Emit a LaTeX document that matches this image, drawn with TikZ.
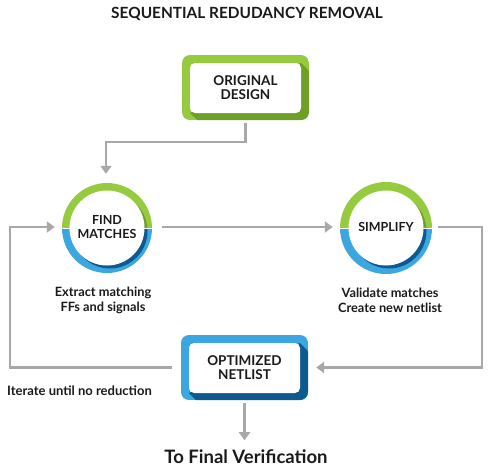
\documentclass[tikz,border=0pt]{standalone}
\usepackage{fontspec}
\setmainfont{Lato}
\usetikzlibrary{arrows.meta}
\definecolor{glight}{HTML}{96CB3F}
\definecolor{gdark}{HTML}{6E9F27}
\definecolor{blight}{HTML}{3CA6E0}
\definecolor{bdark}{HTML}{0C5A8F}
\definecolor{arrowgray}{HTML}{A8A8A8}
\definecolor{txt}{HTML}{1A1A1A}

% rounded box with long shadow: x1 y1 x2 y2 light dark
\newcommand\srrbox[6]{%
  \begin{scope}
    \clip[rounded corners=8pt] (#1,#2) rectangle (#3,#4);
    \fill[#5] (#1,#2) rectangle (#3,#4);
    \fill[#6] (#3-8,#2+8) -- ++(80,80) -- (#1+88,#4+73) -- (#1+8,#4-7) -- cycle;
  \end{scope}
  \fill[white, rounded corners=5pt] (#1+8,#2+8) rectangle (#3-8,#4-7);
}
% ring: cx cy R
\newcommand\srrring[3]{%
  \begin{scope}
    \clip (#1,#2) circle (#3pt);
    \clip (#1-#3,#2-#3) rectangle (#1+#3,#2-1);
    \fill[glight] (#1-#3,#2-#3) rectangle (#1+#3,#2);
    \fill[gdark] (#1+3,#2+3) circle (37.5pt);
  \end{scope}
  \begin{scope}
    \clip (#1,#2) circle (#3pt);
    \clip (#1-#3,#2+1) rectangle (#1+#3,#2+#3);
    \fill[blight] (#1-#3,#2) rectangle (#1+#3,#2+#3);
    \fill[bdark] (#1+3,#2+3) circle (37.5pt);
  \end{scope}
  \fill[white] (#1,#2) circle (37.5pt);
}

\tikzset{
  boxlabel/.style={font=\bfseries\fontsize{13.5}{13.5}\selectfont, text=txt, align=center, inner sep=0pt},
  ringlabel/.style={circle, inner sep=0pt, font=\bfseries\fontsize{12.5}{14}\selectfont, text=txt, align=center},
  desc/.style={font=\bfseries\fontsize{12.8}{15}\selectfont, text=txt, align=center, inner sep=0pt},
  conn/.style={draw=arrowgray, line width=2.5pt, -{Triangle[width=11pt,length=8pt]}},
}

\begin{document}
\begin{tikzpicture}[x=1pt,y=-1pt]
\useasboundingbox[fill=white] (0,0) rectangle (500,474);

\node[font=\bfseries\fontsize{15.4}{18}\selectfont, text=txt] (title) at (247,14) {SEQUENTIAL REDUDANCY REMOVAL};

% decorations
\srrbox{182}{55}{309}{120}{glight}{gdark}
\srrbox{181}{335}{308}{400}{blight}{bdark}
\srrring{107}{228}{45}
\srrring{386}{228}{46}

% nodes
\node[boxlabel, minimum width=127pt, minimum height=65pt] (orig) at (245.5,87.5) {ORIGINAL\\DESIGN};
\node[boxlabel, minimum width=127pt, minimum height=65pt] (opt) at (244.5,367.5) {OPTIMIZED\\NETLIST};
\node[ringlabel, minimum size=90pt] (find) at (107,227) {FIND\\MATCHES};
\node[ringlabel, minimum size=92pt] (simp) at (386,227) {SIMPLIFY};

\node[desc] (findtxt) at (103,300.5) {Extract matching\\FFs and signals};
\node[desc] (simptxt) at (390,300.5) {Validate matches\\Create new netlist};
\node[desc, font=\bfseries\fontsize{13}{15}\selectfont, anchor=west] (iter) at (7,391) {Iterate until no reduction};
\node[font=\bfseries\fontsize{18.5}{20}\selectfont, text=txt] (final) at (246,457) {To Final Verification};

% connectors
\draw[conn, shorten <=3pt, shorten >=8pt] (orig.south) -- ++(0,22) -| ([xshift=-1pt]find.north);
\draw[conn, shorten <=10pt, shorten >=7pt] (find.east) -- (simp.west);
\draw[conn, shorten <=6pt, shorten >=8pt] (simp.east) -- ++(50,0) |- (opt.east);
\draw[conn, shorten <=9pt, shorten >=7pt] (opt.west) -- ++(-171,0) |- (find.west);
\path (opt.south) ++(0,40) coordinate (tipend);
\draw[conn, shorten <=3pt] (opt.south) -- (tipend);
\end{tikzpicture}
\end{document}
